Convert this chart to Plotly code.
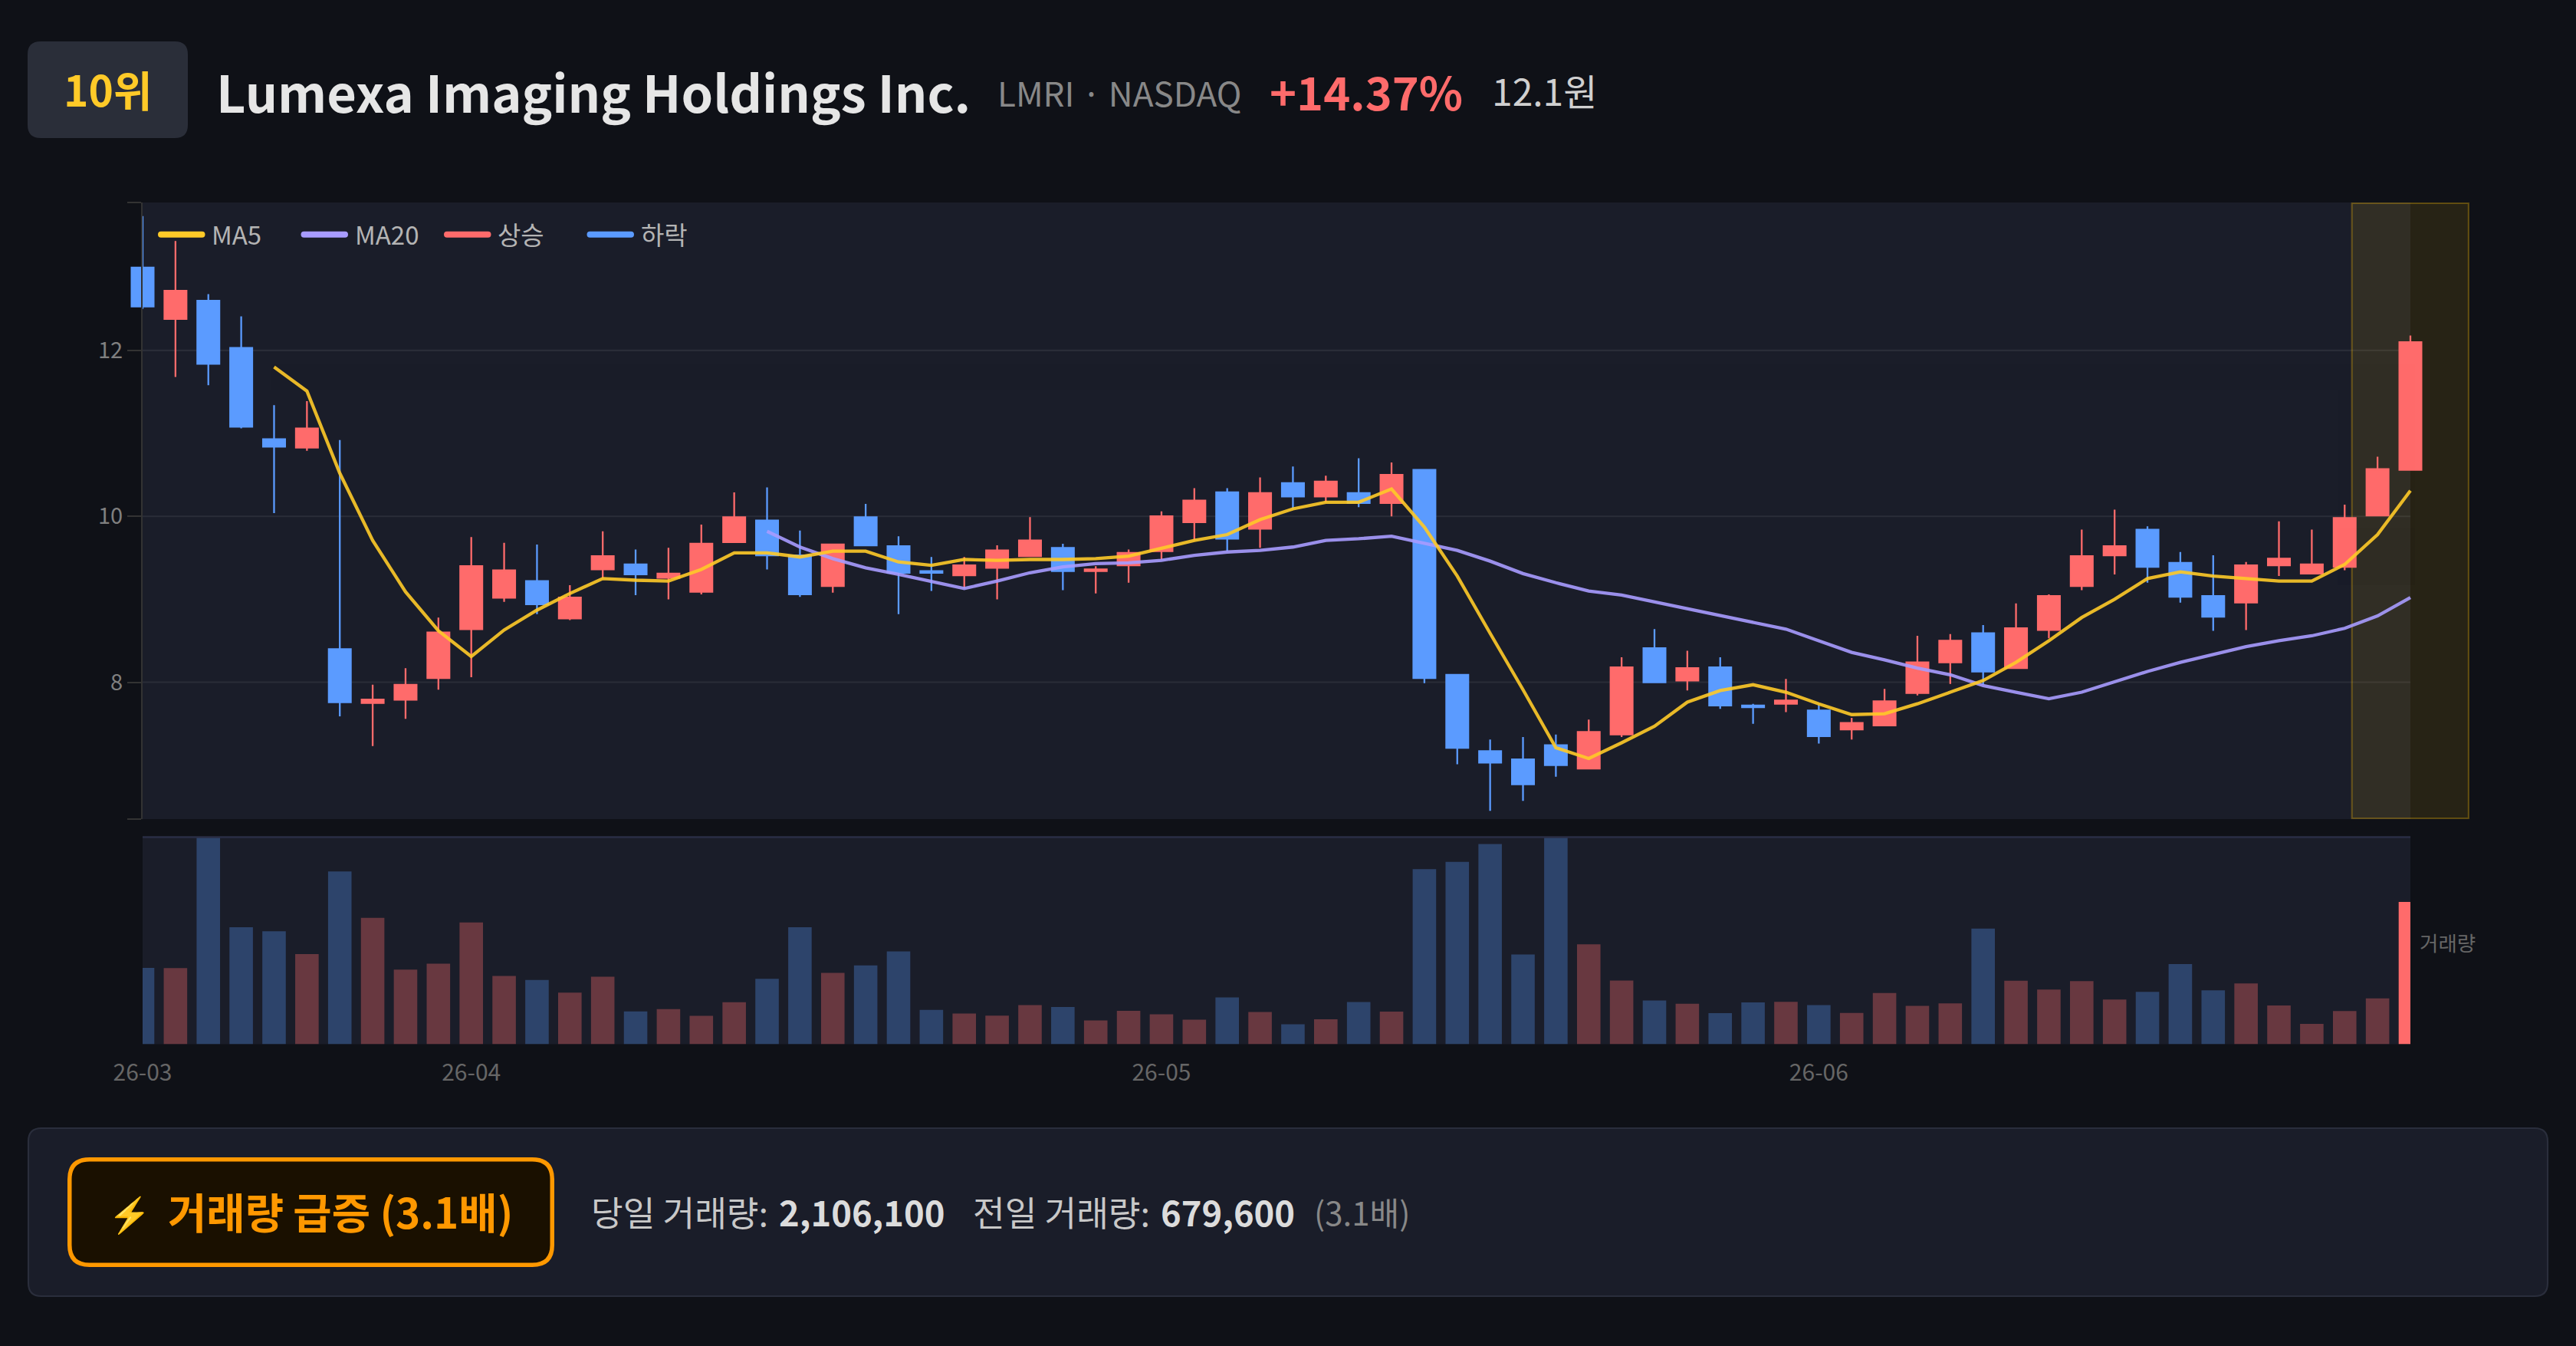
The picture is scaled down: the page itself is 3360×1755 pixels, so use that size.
import plotly.graph_objects as go

W, H = 3360, 1755
FONT = "Noto Sans CJK KR"

open_ = [13.00,12.38,12.60,12.03,10.93,10.83,8.40,7.75,7.79,8.05,8.64,9.02,9.22,8.77,9.36,9.42,9.26,9.09,9.69,9.95,
         9.53,9.16,9.99,9.64,9.34,9.29,9.38,9.52,9.62,9.34,9.41,9.58,9.93,10.29,9.85,10.40,10.24,10.28,10.16,10.56,
         8.09,7.17,7.07,7.24,6.96,7.37,8.41,8.02,8.18,7.72,7.74,7.66,7.43,7.48,7.87,8.24,8.59,8.17,8.63,9.16,
         9.53,9.84,9.44,9.04,8.96,9.41,9.31,9.39,10.01,10.56]
close = [12.53,12.72,11.84,11.08,10.84,11.06,7.76,7.79,7.97,8.60,9.40,9.35,8.94,9.02,9.52,9.30,9.31,9.67,9.99,9.53,
         9.06,9.66,9.65,9.32,9.32,9.41,9.59,9.71,9.34,9.36,9.56,10.00,10.19,9.73,10.28,10.24,10.42,10.16,10.50,8.05,
         7.21,7.03,6.77,7.00,7.40,8.18,8.00,8.17,7.72,7.70,7.78,7.35,7.51,7.77,8.24,8.50,8.13,8.65,9.04,9.52,
         9.64,9.39,9.03,8.79,9.41,9.49,9.42,9.98,10.57,12.10]
high = [13.62,13.32,12.68,12.41,11.34,11.39,10.92,7.97,8.17,8.78,9.75,9.68,9.66,9.17,9.82,9.60,9.62,9.90,10.29,10.35,
        9.83,9.66,10.15,9.76,9.51,9.51,9.65,9.99,9.67,9.40,9.60,10.06,10.34,10.34,10.47,10.60,10.49,10.70,10.65,10.56,
        8.09,7.31,7.34,7.37,7.55,8.30,8.64,8.38,8.30,7.74,8.04,7.73,7.57,7.92,8.56,8.58,8.69,8.95,9.06,9.84,
        10.08,9.88,9.57,9.53,9.45,9.94,9.84,10.14,10.72,12.18]
low = [12.50,11.68,11.58,11.06,10.04,10.79,7.59,7.23,7.56,7.91,8.06,8.97,8.82,8.75,9.25,9.05,9.00,9.06,9.69,9.36,
       9.03,9.08,9.65,8.82,9.10,9.13,9.00,9.52,9.11,9.07,9.20,9.48,9.71,9.58,9.62,10.09,10.17,10.11,10.00,7.99,
       7.01,6.45,6.57,6.86,6.96,7.34,7.99,7.90,7.68,7.50,7.64,7.26,7.31,7.48,7.84,7.98,7.97,8.17,8.53,9.11,
       9.30,9.20,8.96,8.62,8.63,9.28,9.31,9.35,10.01,10.55]
volume = [1132000,1127000,3300000,1734000,1674000,1335000,2560000,1871000,1105000,1192000,1805000,1012000,952000,766000,
          1001000,487000,520000,421000,624000,968000,1734000,1056000,1167000,1375000,508000,454000,424000,579000,553000,
          352000,496000,443000,364000,693000,477000,295000,371000,625000,485000,2594000,2700000,2965000,1329000,3250000,
          1480000,943000,648000,599000,462000,621000,629000,579000,465000,760000,568000,607000,1712000,941000,810000,
          935000,662000,777000,1187000,799000,902000,575000,301000,492000,679600,2106100]
ma5 = [None,None,None,None,11.80,11.51,10.52,9.71,9.09,8.62,8.31,8.63,8.87,9.07,9.25,9.23,9.22,9.36,9.56,9.56,
       9.51,9.58,9.58,9.45,9.41,9.48,9.47,9.48,9.48,9.49,9.52,9.61,9.71,9.78,9.96,10.09,10.17,10.17,10.33,9.87,
       9.28,8.59,7.91,7.21,7.08,7.27,7.47,7.76,7.90,7.97,7.88,7.74,7.61,7.62,7.74,7.88,8.02,8.24,8.50,8.78,
       9.00,9.25,9.33,9.28,9.25,9.22,9.22,9.42,9.78,10.31]
ma20 = [None]*19 + [9.82,9.63,9.49,9.38,9.30,9.21,9.13,9.22,9.32,9.39,9.43,9.44,9.47,9.53,9.57,9.59,9.63,9.71,9.73,9.76,
        9.67,9.59,9.46,9.31,9.20,9.10,9.05,8.97,8.89,8.81,8.73,8.64,8.50,8.36,8.27,8.17,8.09,7.96,7.88,7.80,7.88,
        8.01,8.13,8.24,8.33,8.43,8.50,8.56,8.65,8.80,9.02]
sessions = list(range(len(close)))
month_ticks = [0, 10, 31, 51]
month_labels = ["26-03", "26-04", "26-05", "26-06"]
price_ticks = [8, 10, 12]
price_range = [6.35, 13.784]
volume_max = 3067000
legend_labels = ["MA5", "MA20", "상승", "하락"]

BG = "#0f1117"; PANEL = "#1a1d29"; UP = "#ff6b6b"; DOWN = "#5b9bff"
MA5C = "#ffca28"; MA20C = "#a89cff"
X0, X1 = 186.0, 3144.0
STEP = (X1 - X0) / 69
PAD_L, PAD_R = 1, 2


def px(x):
    return x / W


def py(y):
    return 1 - y / H


def rounded(x0, y0, x1, y1, r, fill, line=None, lw=0, layer="below"):
    a, b, c, d = px(x0), px(x1), py(y0), py(y1)
    rx, ry = r / W, r / H
    path = (f"M {a+rx} {c} L {b-rx} {c} Q {b} {c} {b} {c-ry} L {b} {d+ry} Q {b} {d} {b-rx} {d} "
            f"L {a+rx} {d} Q {a} {d} {a} {d+ry} L {a} {c-ry} Q {a} {c} {a+rx} {c} Z")
    return dict(type="path", xref="paper", yref="paper", path=path, fillcolor=fill,
                line=dict(color=line or "rgba(0,0,0,0)", width=lw), layer=layer)


def text(x, y, s, size, color, weight=400, anchor="left"):
    return dict(xref="paper", yref="paper", x=px(x), y=py(y), text=s, showarrow=False, xanchor=anchor,
                yanchor="middle", font=dict(family=FONT, size=size, color=color, weight=weight), align="left")


fig = go.Figure()
fig.add_trace(go.Candlestick(x=sessions, open=open_, high=high, low=low, close=close, xaxis="x", yaxis="y",
                             whiskerwidth=0, hoverinfo="skip",
                             increasing=dict(line=dict(color=UP, width=2.3), fillcolor=UP),
                             decreasing=dict(line=dict(color=DOWN, width=2.3), fillcolor=DOWN)))
fig.add_trace(go.Scatter(x=sessions, y=ma20, mode="lines", xaxis="x", yaxis="y", opacity=0.9,
                         line=dict(color=MA20C, width=4.3), hoverinfo="skip"))
fig.add_trace(go.Scatter(x=sessions, y=ma5, mode="lines", xaxis="x", yaxis="y", opacity=0.9,
                         line=dict(color=MA5C, width=4.3), hoverinfo="skip"))

bar_colors = [("rgba(255,107,107,0.34)" if c >= o else "rgba(91,155,255,0.31)") for o, c in zip(open_, close)]
bar_colors[-1] = UP
fig.add_trace(go.Bar(x=sessions, y=volume, xaxis="x2", yaxis="y2", marker=dict(color=bar_colors, line=dict(width=0)),
                     hoverinfo="skip"))

shapes = [
    dict(type="rect", xref="paper", yref="paper", x0=px(X0), x1=px(X1), y0=py(1068), y1=py(264),
         fillcolor=PANEL, line=dict(width=0), layer="below"),
    dict(type="rect", xref="paper", yref="paper", x0=px(X0), x1=px(X1), y0=py(1361.6), y1=py(1091.5),
         fillcolor=PANEL, line=dict(width=0), layer="below"),
]
for t in price_ticks:
    shapes.append(dict(type="line", xref="paper", yref="y", x0=px(X0), x1=px(X1), y0=t, y1=t,
                       line=dict(color="#2a2d38", width=2.14), layer="below"))
shapes.append(dict(type="rect", xref="x", yref="paper", x0=sessions[-1] - 1.78, x1=sessions[-1] + 1.77,
                   y0=py(1067), y1=py(265), fillcolor="rgba(255,193,7,0.10)",
                   line=dict(color="rgba(255,193,7,0.30)", width=2.14), layer="below"))
shapes.append(dict(type="line", xref="paper", yref="paper", x0=px(X0), x1=px(X1), y0=py(1091.5), y1=py(1091.5),
                   line=dict(color="#2a2e45", width=2.5), layer="above"))
# header badge, alert card, alert button
shapes.append(rounded(36, 54, 245, 180, 17, "#2a2e39"))
shapes.append(rounded(37, 1471, 3323, 1690, 17, PANEL, "#2a2e3c", 2.14))
shapes.append(rounded(90.75, 1511.75, 720.25, 1649.25, 26, "#1a1000", "#ff9800", 5.5))
# legend
annotations = []
for lab, col, x_line in zip(legend_labels, [MA5C, MA20C, UP, DOWN], [206, 392.5, 579, 765.5]):
    shapes.append(rounded(x_line, 301.7, x_line + 61.5, 309.7, 4, col, layer="above"))
    annotations.append(text(x_line + 68, 305, lab, 33, "#b4b4b4"))

annotations += [
    text(140.5, 115, "10위", 55, "#ffca28", 700, "center"),
    text(280, 118, "Lumexa Imaging Holdings Inc.", 66.6, "#e6e6e6", 700),
    text(1299, 120, "LMRI · NASDAQ", 44, "#888888"),
    text(1654, 118, "+14.37%", 59.5, UP, 700),
    text(1944, 117, "12.1원", 48, "#d0d0d0"),
    text(3154, 1228, "거래량", 26.5, "#666666"),
    text(139, 1580, "⚡", 45, "#ff9800"),
    text(217, 1578, "거래량 급증 (3.1배)", 54.7, "#ff9800", 700),
    text(769, 1579, "당일 거래량:", 45.3, "#c8c8c8"),
    text(1014, 1579, "2,106,100", 45.3, "#dcdcdc", 700),
    text(1267, 1579, "전일 거래량:", 45.3, "#c8c8c8"),
    text(1512, 1579, "679,600", 45.3, "#dcdcdc", 700),
    text(1712, 1579, "(3.1배)", 42, "#888888"),
]

fig.update_layout(
    width=W, height=H, autosize=False, margin=dict(l=0, r=0, t=0, b=0, pad=0, autoexpand=False),
    paper_bgcolor=BG, plot_bgcolor="rgba(0,0,0,0)", showlegend=False, bargap=0.286, boxgap=0.33, boxgroupgap=0,
    font=dict(family=FONT), shapes=shapes, annotations=annotations,
    xaxis=dict(domain=[px(X0 - PAD_L * STEP), px(X1 + PAD_R * STEP)], range=[-PAD_L, 69 + PAD_R], anchor="y",
               visible=False, rangeslider=dict(visible=False), fixedrange=True, automargin=False),
    yaxis=dict(domain=[py(1068), py(264)], range=price_range, anchor="x2", side="left", automargin=False,
               tickmode="array", tickvals=[price_range[0]] + price_ticks + [price_range[1]],
               ticktext=[""] + [str(t) for t in price_ticks] + [""],
               ticks="outside", ticklen=18, tickwidth=2.14, tickcolor="#333333",
               showline=True, linecolor="#333333", linewidth=2.14, showgrid=False, zeroline=False,
               tickfont=dict(family=FONT, size=29, color="#808080"), fixedrange=True),
    xaxis2=dict(domain=[px(X0), px(X1)], range=[0, 69], anchor="y2", tickmode="array", tickvals=month_ticks,
                ticktext=month_labels, ticks="outside", ticklen=10, tickcolor="rgba(0,0,0,0)", showline=False,
                automargin=False,
                showgrid=False, zeroline=False, tickfont=dict(family=FONT, size=30, color="#666666"), fixedrange=True),
    yaxis2=dict(domain=[py(1361.6), py(1091.5)], range=[0, volume_max], anchor="x2", showticklabels=False,
                automargin=False,
                ticks="", showgrid=False, zeroline=False, showline=False, fixedrange=True),
)

fig.write_html("out.html", config={"displayModeBar": False},
               post_script="document.body.style.margin='0';document.body.style.background='#0f1117';document.body.style.overflow='hidden';")
